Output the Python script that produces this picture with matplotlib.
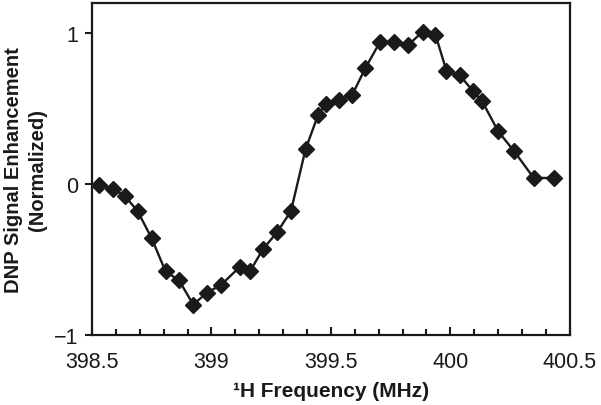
import matplotlib.pyplot as plt
from matplotlib.ticker import MultipleLocator

# data
freq = [398.531, 398.587, 398.638, 398.691, 398.750, 398.808, 398.865, 398.924,
        398.982, 399.040, 399.119, 399.161, 399.217, 399.275, 399.333, 399.394,
        399.447, 399.478, 399.535, 399.589, 399.645, 399.705, 399.764, 399.823,
        399.884, 399.938, 399.984, 400.040, 400.093, 400.133, 400.200, 400.266,
        400.349, 400.433]
enhancement = [-0.01, -0.03, -0.08, -0.18, -0.36, -0.58, -0.64, -0.80,
               -0.72, -0.67, -0.55, -0.58, -0.43, -0.32, -0.18, 0.23,
               0.46, 0.53, 0.56, 0.59, 0.77, 0.94, 0.94, 0.92,
               1.01, 0.99, 0.75, 0.72, 0.62, 0.55, 0.35, 0.22,
               0.04, 0.04]
xticks = [398.5, 399, 399.5, 400, 400.5]
xticklabels = ["398.5", "399", "399.5", "400", "400.5"]
yticks = [-1, 0, 1]

plt.rcParams['font.family'] = ['Liberation Sans', 'DejaVu Sans']

fig = plt.figure(figsize=(6.01, 4.06), dpi=100)
ax = fig.add_axes([0.153, 0.173, 0.795, 0.817])

ink = '#1a1a1a'
ax.plot(freq, enhancement, color=ink, lw=1.7, marker='D', ms=8.5,
        mfc=ink, mec=ink)

ax.set_xlim(398.5, 400.5)
ax.set_ylim(-1, 1.2)
ax.set_xticks(xticks)
ax.set_xticklabels(xticklabels)
ax.set_yticks(yticks)
ax.xaxis.set_minor_locator(MultipleLocator(0.1))

ax.tick_params(axis='x', which='major', direction='in', length=6, width=1.5,
               labelsize=15.5, colors=ink, pad=12)
ax.tick_params(axis='x', which='minor', direction='in', length=4, width=1.5,
               colors=ink)
ax.tick_params(axis='y', which='major', direction='out', length=5, width=1.5,
               labelsize=15.5, colors=ink, pad=5)

for s in ax.spines.values():
    s.set_linewidth(1.6)
    s.set_color(ink)

ax.set_xlabel('¹H Frequency (MHz)', fontsize=15, fontweight='bold',
              color=ink, labelpad=6.5)
ax.set_ylabel('DNP Signal Enhancement\n(Normalized)', fontsize=14.5,
              fontweight='bold', color=ink, labelpad=5, linespacing=1.3)

fig.savefig('out.png', dpi=100)
